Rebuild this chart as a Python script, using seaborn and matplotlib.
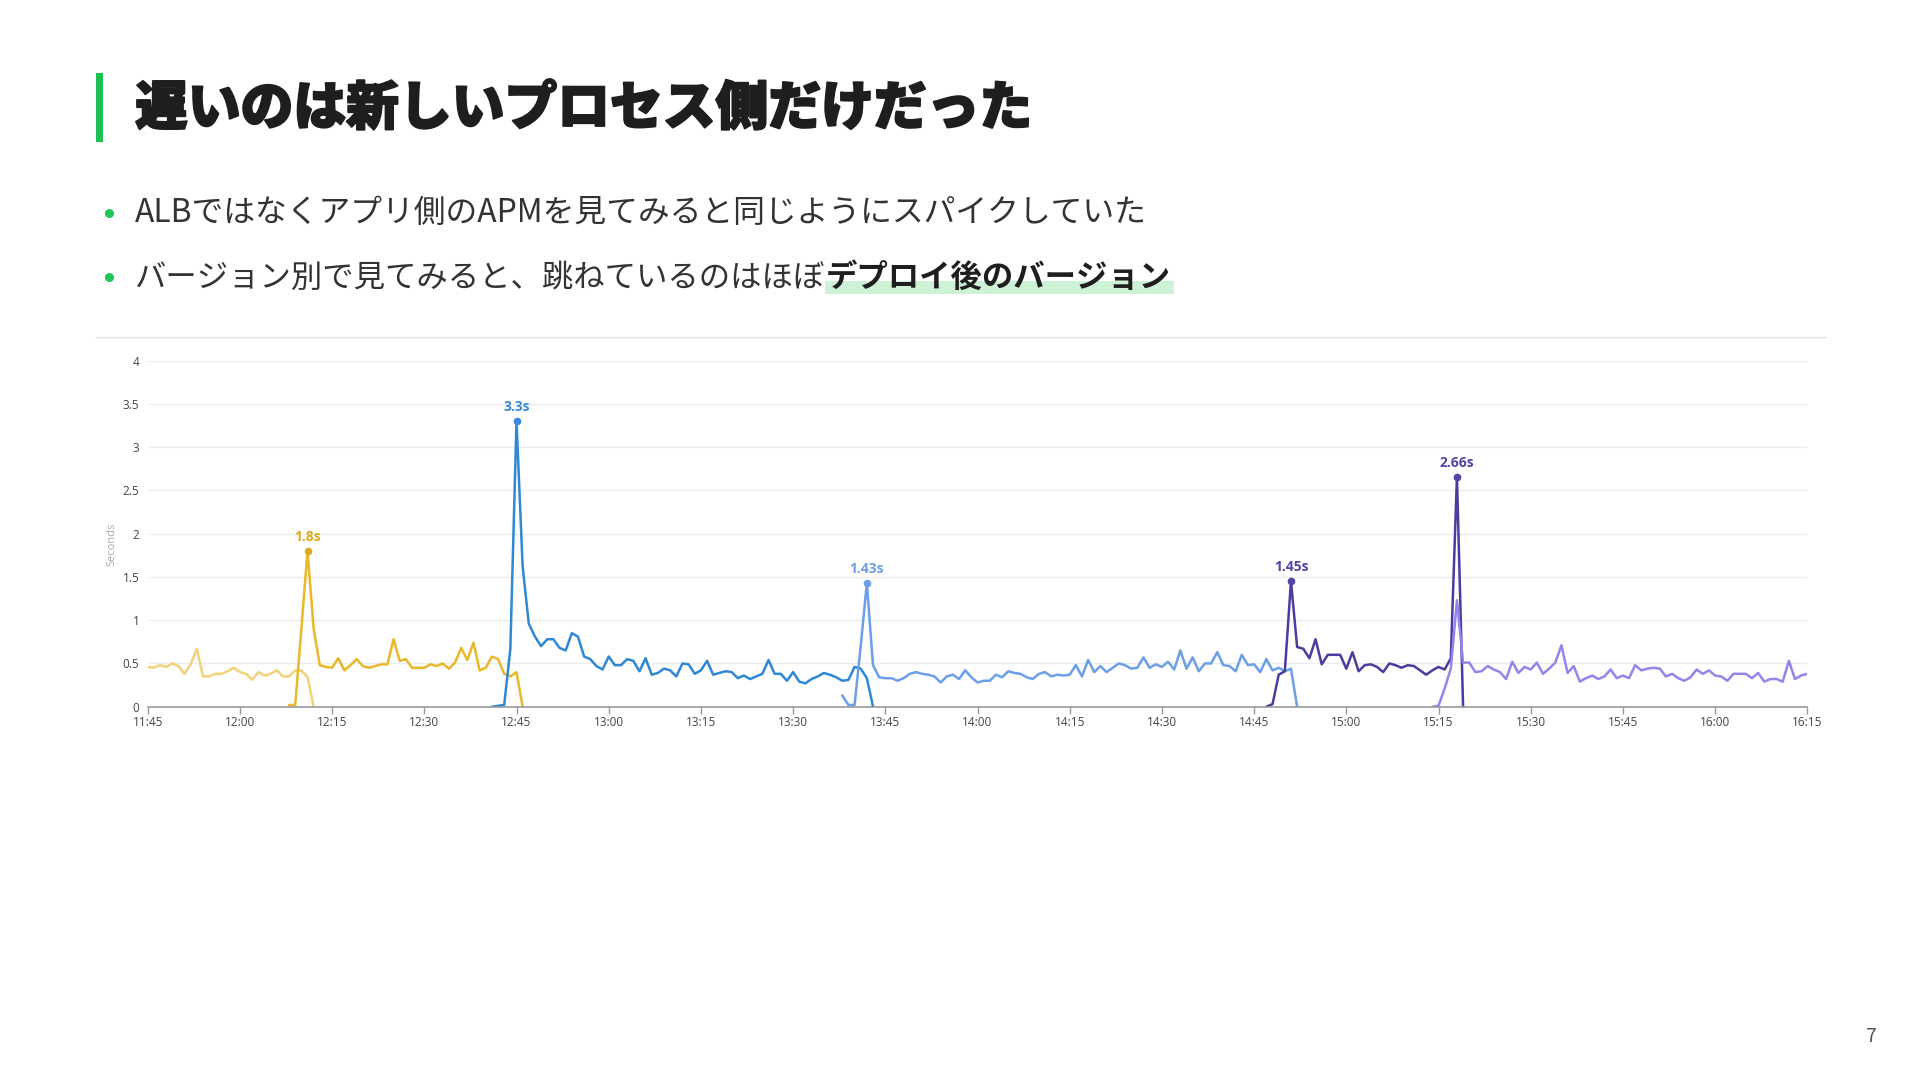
import pandas as pd
import seaborn as sns
import matplotlib.pyplot as plt
import matplotlib.dates as mdates
import matplotlib.patheffects as pe
from matplotlib.patches import Rectangle
from matplotlib.lines import Line2D
from matplotlib.ticker import FuncFormatter

# slide texts
title = "遅いのは新しいプロセス側だけだった"
bullet1 = "ALBではなくアプリ側のAPMを見てみると同じようにスパイクしていた"
bullet2_plain = "バージョン別で見てみると、跳ねているのはほぼ"
bullet2_bold = "デプロイ後のバージョン"
page_no = "7"

# latency per version (seconds, 1 minute steps from start time)
ver1_start = "11:45"
ver1 = [0.46, 0.45, 0.48, 0.46, 0.50, 0.47, 0.38, 0.49, 0.67, 0.35, 0.35, 0.38, 0.38, 0.41, 0.45,
        0.40, 0.38, 0.31, 0.40, 0.36, 0.38, 0.42, 0.35, 0.35, 0.42, 0.42, 0.34, 0.0]

ver2_start = "12:08"
ver2 = [0.02, 0.02, 0.90, 1.80, 0.90, 0.48, 0.46, 0.45, 0.56, 0.42, 0.48, 0.55, 0.47, 0.45, 0.47,
        0.49, 0.49, 0.78, 0.53, 0.55, 0.45, 0.45, 0.45, 0.49, 0.47, 0.50, 0.44, 0.51, 0.68, 0.54,
        0.74, 0.42, 0.45, 0.58, 0.55, 0.38, 0.35, 0.40, 0.0]

ver3_start = "12:41"
ver3 = [0.0, 0.01, 0.02, 0.67, 3.30, 1.62, 0.96, 0.81, 0.70, 0.78, 0.78, 0.68, 0.65, 0.85, 0.81,
        0.58, 0.55, 0.47, 0.43, 0.58, 0.48, 0.48, 0.55, 0.53, 0.41, 0.56, 0.37, 0.39, 0.44, 0.42,
        0.35, 0.50, 0.49, 0.38, 0.42, 0.53, 0.37, 0.39, 0.41, 0.40, 0.33, 0.36, 0.32, 0.35, 0.38,
        0.54, 0.38, 0.38, 0.30, 0.40, 0.29, 0.27, 0.32, 0.35, 0.39, 0.37, 0.34, 0.30, 0.31, 0.46,
        0.44, 0.33, 0.0]

ver4_start = "13:38"
ver4 = [0.13, 0.02, 0.02, 0.70, 1.43, 0.48, 0.34, 0.33, 0.33, 0.30, 0.33, 0.38, 0.40, 0.38, 0.37,
        0.35, 0.28, 0.35, 0.37, 0.32, 0.42, 0.34, 0.28, 0.30, 0.30, 0.37, 0.34, 0.41, 0.39, 0.38,
        0.34, 0.32, 0.38, 0.40, 0.35, 0.37, 0.36, 0.37, 0.48, 0.35, 0.54, 0.40, 0.47, 0.40, 0.45,
        0.50, 0.48, 0.44, 0.45, 0.57, 0.45, 0.49, 0.46, 0.52, 0.43, 0.65, 0.44, 0.57, 0.41, 0.50,
        0.50, 0.63, 0.48, 0.47, 0.41, 0.60, 0.48, 0.49, 0.40, 0.55, 0.42, 0.45, 0.41, 0.44, 0.0]

ver5_start = "14:47"
ver5 = [0.0, 0.03, 0.37, 0.41, 1.45, 0.69, 0.67, 0.56, 0.78, 0.49, 0.60, 0.60, 0.60, 0.44, 0.63,
        0.41, 0.48, 0.49, 0.46, 0.40, 0.50, 0.48, 0.45, 0.48, 0.47, 0.42, 0.37, 0.42, 0.46, 0.43,
        0.56, 2.66, 0.0]

ver6_start = "15:14"
ver6 = [0.0, 0.01, 0.21, 0.44, 1.23, 0.51, 0.51, 0.40, 0.41, 0.47, 0.43, 0.40, 0.32, 0.52, 0.39,
        0.46, 0.43, 0.51, 0.38, 0.44, 0.51, 0.71, 0.39, 0.47, 0.29, 0.33, 0.36, 0.32, 0.35, 0.43,
        0.33, 0.36, 0.33, 0.48, 0.42, 0.44, 0.45, 0.44, 0.35, 0.38, 0.33, 0.30, 0.34, 0.43, 0.38,
        0.42, 0.36, 0.35, 0.30, 0.38, 0.38, 0.38, 0.33, 0.39, 0.29, 0.32, 0.32, 0.29, 0.53, 0.32,
        0.36, 0.38]

versions = ["ver1", "ver2", "ver3", "ver4", "ver5", "ver6"]
line_colors = ["#f2d27a", "#e9b82a", "#2f88d6", "#6c9fe8", "#4a3d9e", "#9584ea"]

# peak labels
peak_versions = ["ver2", "ver3", "ver4", "ver5", "ver5"]
peak_times = ["12:11", "12:45", "13:42", "14:51", "15:18"]
peak_labels = ["1.8s", "3.3s", "1.43s", "1.45s", "2.66s"]
peak_colors = ["#dcaa1f", "#3a8cda", "#6e9fe4", "#5444a8", "#5444a8"]

y_ticks = [0, 0.5, 1, 1.5, 2, 2.5, 3, 3.5, 4]
day = "2024-01-01"


def series_frame(name, start, values):
    times = pd.date_range(f"{day} {start}", periods=len(values), freq="min")
    return pd.DataFrame({"time": times, "seconds": values, "version": name})


df = pd.concat([
    series_frame("ver1", ver1_start, ver1),
    series_frame("ver2", ver2_start, ver2),
    series_frame("ver3", ver3_start, ver3),
    series_frame("ver4", ver4_start, ver4),
    series_frame("ver5", ver5_start, ver5),
    series_frame("ver6", ver6_start, ver6),
], ignore_index=True)

sns.set_theme(style="white")
plt.rcParams["font.family"] = ["Noto Sans CJK JP", "DejaVu Sans"]

W, H = 1920, 1080
fig = plt.figure(figsize=(W / 100, H / 100), dpi=100)
fig.patch.set_facecolor("white")

# --- slide header ---
fig.add_artist(Rectangle((96 / W, 1 - 142 / H), 7 / W, 69 / H, transform=fig.transFigure,
                         color="#1fbf53", lw=0))
fig.text(135 / W, 1 - 109 / H, title, fontsize=38, fontweight="heavy", color="#1e1e1e", va="center",
         path_effects=[pe.withStroke(linewidth=1.4, foreground="#1e1e1e")])

for yy in [213, 277]:
    fig.add_artist(Line2D([109 / W], [1 - yy / H], marker="o", markersize=5.5,
                          color="#21c35a", lw=0))

fig.text(135 / W, 1 - 213 / H, bullet1, fontsize=22.9, color="#333333", va="center")
t_plain = fig.text(135 / W, 1 - 278 / H, bullet2_plain, fontsize=22.6, color="#333333", va="center")
renderer = fig.canvas.get_renderer()
bb = t_plain.get_window_extent(renderer)
t_bold = fig.text(bb.x1 / W, 1 - 278 / H, bullet2_bold, fontsize=22.6, fontweight="bold",
                  color="#1e1e1e", va="center", zorder=3)
bb2 = t_bold.get_window_extent(renderer)
fig.add_artist(Rectangle((bb2.x0 / W, 1 - 294 / H), (bb2.x1 - bb2.x0 + 4) / W, 13 / H,
                         transform=fig.transFigure, color="#cdf2d6", lw=0, zorder=1))

fig.add_artist(Line2D([96 / W, 1826 / W], [1 - 337 / H, 1 - 337 / H], color="#e4e4e4", lw=1))
fig.text(1871 / W, 1 - 1037 / H, page_no, fontsize=14, color="#555555", ha="center", va="center")

# --- chart ---
ax = fig.add_axes([147.7 / W, 1 - 706.7 / H, (1807.3 - 147.7) / W, 346 / H])
sns.lineplot(data=df, x="time", y="seconds", hue="version", hue_order=versions,
             palette=line_colors, estimator=None, linewidth=1.8, legend=False, ax=ax)

for ver, tm, lab, col in zip(peak_versions, peak_times, peak_labels, peak_colors):
    ts = pd.Timestamp(f"{day} {tm}")
    val = df.loc[(df["version"] == ver) & (df["time"] == ts), "seconds"].iloc[0]
    ax.plot([ts], [val], "o", ms=4.5, color=col, clip_on=False, zorder=5)
    ax.annotate(lab, (ts, val), xytext=(0, 10), textcoords="offset points", ha="center",
                va="center", fontsize=10, fontweight="bold", color=col,
                fontfamily=["Open Sans", "DejaVu Sans"], annotation_clip=False)

ax.set_xlim(pd.Timestamp(f"{day} 11:45"), pd.Timestamp(f"{day} 16:15"))
ax.set_ylim(0, 4)
ax.set_yticks(y_ticks)
ax.yaxis.set_major_formatter(FuncFormatter(lambda v, p: f"{v:g}"))
ax.xaxis.set_major_locator(mdates.MinuteLocator(byminute=[0, 15, 30, 45]))
ax.xaxis.set_major_formatter(mdates.DateFormatter("%H:%M"))

ax.yaxis.grid(True, color="#ececec", lw=1)
ax.set_axisbelow(True)
for side in ["top", "right", "left"]:
    ax.spines[side].set_visible(False)
ax.spines["bottom"].set_color("#9a9a9a")
ax.spines["bottom"].set_linewidth(1.2)
ax.tick_params(axis="x", direction="out", length=5, width=1, color="#9a9a9a",
               labelsize=8.5, labelcolor="#444444", pad=2, bottom=True)
ax.tick_params(axis="y", length=0, labelsize=8.5, labelcolor="#444444", pad=6)
for lab in ax.get_xticklabels() + ax.get_yticklabels():
    lab.set_fontfamily(["Open Sans", "DejaVu Sans"])

ax.set_xlabel("")
ax.set_ylabel("Seconds", fontsize=8, color="#aaaaaa", fontfamily=["Open Sans", "DejaVu Sans"])
ax.yaxis.set_label_coords(-0.018, 0.47)

fig.savefig("out.png", dpi=100)
